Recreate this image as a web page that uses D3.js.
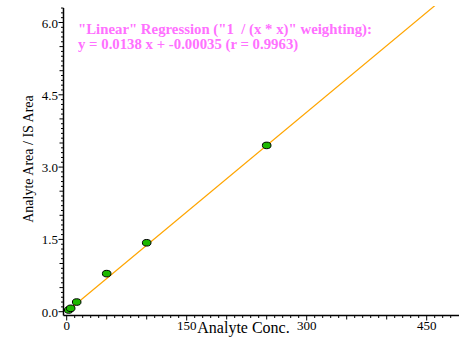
<!DOCTYPE html>
<html>
<head>
<meta charset="utf-8">
<script src="https://cdn.jsdelivr.net/npm/d3@7"></script>
<style>
  body { margin: 0; background: #fff; }
  text { font-family: "Liberation Serif", "DejaVu Serif", serif; }
</style>
</head>
<body>
<div id="chart"></div>
<script>
// calibration points
const conc = [2.5, 5, 12.5, 50, 100, 250];
const ratio = [0.035, 0.07, 0.2, 0.79, 1.43, 3.45];
const slope = 0.0138, intercept = -0.00035;
const yTicks = [0, 1.5, 3.0, 4.5, 6.0];
const xTicks = [0, 150, 300, 450];
const noteLines = ['"Linear" Regression ("1  / (x * x)" weighting):',
                   'y = 0.0138 x + -0.00035 (r = 0.9963)'];

const width = 459, height = 337;
const svg = d3.select("#chart").append("svg")
    .attr("width", width)
    .attr("height", height);

let x = d3.scaleLinear().domain([0, 450]).range([66.7, 426.7]);
let y = d3.scaleLinear().domain([0, 6]).range([311.7, 22.5]);

const axisX = 63.5, axisY = 315.5, plotTop = 6;

// clip region for the fit line
svg.append("clipPath").attr("id", "plot")
    .append("rect").attr("x", axisX).attr("y", plotTop)
    .attr("width", width - axisX).attr("height", axisY - plotTop);

// y axis
let yAxis = svg.append("g");
yAxis.append("line")
    .attr("x1", axisX).attr("x2", axisX)
    .attr("y1", 8).attr("y2", axisY)
    .attr("stroke", "#000").attr("stroke-width", 1.5);
d3.range(0, 64).map(i => i / 10).forEach(v => {
    let len = (Math.round(v * 10) % 15 === 0) ? 5 : (Math.round(v * 10) % 5 === 0 ? 4 : 2.5);
    yAxis.append("line")
        .attr("x1", axisX - len).attr("x2", axisX)
        .attr("y1", y(v)).attr("y2", y(v))
        .attr("stroke", "#000").attr("stroke-width", 1);
});
yAxis.selectAll("text.tick").data(yTicks).enter().append("text")
    .attr("x", 58).attr("y", d => y(d) + 5)
    .attr("text-anchor", "end")
    .attr("font-size", 13)
    .text(d => d.toFixed(1));

// x axis
let xAxis = svg.append("g");
xAxis.append("line")
    .attr("x1", axisX).attr("x2", width)
    .attr("y1", axisY).attr("y2", axisY)
    .attr("stroke", "#000").attr("stroke-width", 1.5);
d3.range(0, 490, 10).forEach(v => {
    let len = (v % 150 === 0) ? 5 : (v % 50 === 0 ? 4 : 2.5);
    xAxis.append("line")
        .attr("x1", x(v)).attr("x2", x(v))
        .attr("y1", axisY).attr("y2", axisY + len)
        .attr("stroke", "#000").attr("stroke-width", 1);
});
xAxis.selectAll("text.tick").data(xTicks).enter().append("text")
    .attr("x", d => x(d)).attr("y", 330)
    .attr("text-anchor", "middle")
    .attr("font-size", 13)
    .text(d => d);

// axis titles
svg.append("text")
    .attr("x", 243.5).attr("y", 333)
    .attr("text-anchor", "middle")
    .attr("font-size", 16)
    .text("Analyte Conc.");
svg.append("text")
    .attr("transform", "translate(33,159) rotate(-90)")
    .attr("text-anchor", "middle")
    .attr("font-size", 14)
    .text("Analyte Area / IS Area");

// fit line
let xEnd = 480;
svg.append("line")
    .attr("clip-path", "url(#plot)")
    .attr("x1", x(0)).attr("y1", y(intercept))
    .attr("x2", x(xEnd)).attr("y2", y(slope * xEnd + intercept))
    .attr("stroke", "#ffa500").attr("stroke-width", 1.2);

// points
svg.selectAll("ellipse").data(conc).enter().append("ellipse")
    .attr("cx", d => x(d))
    .attr("cy", (d, i) => y(ratio[i]))
    .attr("rx", 4.3).attr("ry", 3.3)
    .attr("fill", "#1db800")
    .attr("stroke", "#000").attr("stroke-width", 1);

// regression note
svg.selectAll("text.note").data(noteLines).enter().append("text")
    .attr("x", 78).attr("y", (d, i) => 34 + i * 15)
    .attr("font-size", 14.8)
    .attr("font-weight", "bold")
    .attr("fill", "#ff70ff")
    .attr("xml:space", "preserve")
    .style("white-space", "pre")
    .text(d => d);
</script>
</body>
</html>
